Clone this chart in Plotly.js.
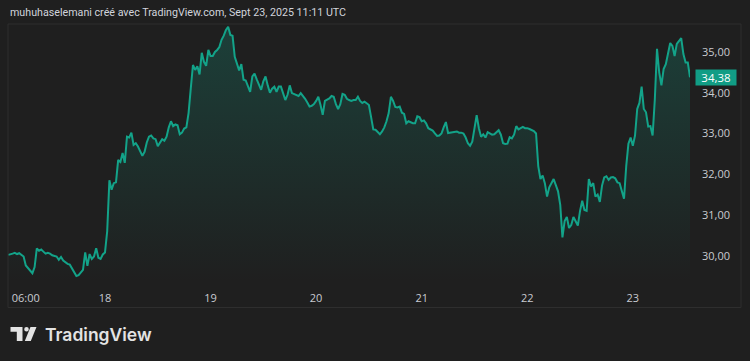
<!DOCTYPE html>
<html>
<head>
<meta charset="utf-8">
<script src="https://cdn.plot.ly/plotly-3.0.1.min.js"></script>
<style>
html,body{margin:0;padding:0;background:#1f1f1f;}
#chart{width:750px;height:361px;}
</style>
</head>
<body>
<div id="chart"></div>
<script>
// ---- data (30-minute closes, from 2025-09-17 02:00) ----
const seriesStart = '2025-09-17T02:00:00';
const stepMinutes = 30;
const prices = [
30.02,30.03,30.05,30.07,30.04,30.06,30.02,29.98,29.76,29.70,
29.62,29.57,29.72,30.18,30.12,30.15,30.10,30.05,30.07,30.05,
30.01,30.00,29.98,29.90,29.97,29.88,29.83,29.80,29.78,29.68,
29.60,29.50,29.52,29.58,29.65,30.08,29.75,30.04,29.92,29.98,
30.18,29.95,29.92,30.03,30.08,30.60,31.85,31.62,31.78,31.80,
32.35,32.30,32.52,32.28,32.92,32.90,33.02,32.72,32.76,32.68,
32.55,32.45,32.55,32.78,32.92,32.95,32.88,32.86,32.69,32.78,
32.86,32.82,32.92,33.15,33.30,33.18,33.22,33.20,32.98,33.02,
33.12,33.15,33.50,34.10,34.68,34.56,34.65,34.45,34.98,34.76,
34.66,35.05,34.90,34.90,35.00,35.05,35.12,35.30,35.40,35.54,
35.62,35.42,35.40,34.88,34.70,34.55,34.70,34.32,34.30,34.15,
34.02,34.40,34.47,34.33,34.22,34.07,34.28,34.40,34.18,34.00,
34.10,34.15,34.02,34.15,34.15,33.98,33.82,33.95,34.18,33.99,
33.96,33.93,33.92,33.99,33.93,33.85,33.76,33.66,33.68,33.72,
33.80,33.90,33.70,33.46,33.80,33.83,33.86,33.92,33.90,33.72,
33.60,33.72,33.97,33.95,33.85,33.82,33.80,33.82,33.82,33.90,
33.80,33.75,33.78,33.74,33.70,33.40,33.10,33.09,33.02,32.98,
33.05,33.15,33.30,33.50,33.90,33.80,33.65,33.64,33.66,33.51,
33.48,33.25,33.30,33.28,33.25,33.25,33.42,33.40,33.30,33.32,
33.25,33.13,33.10,33.07,33.00,32.94,32.95,33.00,33.15,33.28,
33.01,33.02,33.02,33.04,33.05,33.02,33.02,33.00,32.90,32.76,
32.70,32.80,33.15,33.45,33.13,32.92,32.98,32.90,33.03,33.00,
32.97,32.98,33.02,33.08,32.97,32.76,32.74,32.75,32.91,32.88,
32.97,33.18,33.10,33.14,33.16,33.13,33.13,33.11,33.09,33.06,
33.00,32.20,31.88,31.97,31.78,31.45,31.68,31.79,31.88,31.73,
31.58,31.25,30.45,30.85,30.95,30.68,30.75,30.95,30.86,30.74,
31.10,31.35,31.12,31.10,31.88,31.70,31.78,31.45,31.50,31.32,
31.72,31.92,31.95,31.86,31.92,31.93,31.90,31.80,31.78,31.60,
31.40,32.20,32.75,32.90,32.70,32.95,33.60,33.75,34.15,33.60,
33.52,33.17,33.18,32.95,33.83,35.08,34.50,34.18,34.58,34.70,
34.93,35.22,35.15,34.90,35.20,35.28,35.34,34.95,34.74,34.74,
34.38
];
const tickDates = ['2025-09-17 06:00','2025-09-18','2025-09-19','2025-09-20','2025-09-21','2025-09-22','2025-09-23'];
const tickLabels = ['06:00','18','19','20','21','22','23'];
const yTicks = [30,31,32,33,34,35];
const lastPrice = 34.38;
const titleText = 'muhuhaselemani créé avec TradingView.com, Sept 23, 2025 11:11 UTC';

// ---- build timestamps from start + step ----
function fmt(d){
  const p=n=>String(n).padStart(2,'0');
  return d.getUTCFullYear()+'-'+p(d.getUTCMonth()+1)+'-'+p(d.getUTCDate())+' '+p(d.getUTCHours())+':'+p(d.getUTCMinutes());
}
const t0 = Date.parse(seriesStart+'Z');
const times = prices.map((_,i)=>fmt(new Date(t0+i*stepMinutes*60000)));

// ---- geometry helpers (pixel -> paper) ----
const W=750,H=361,ML=8,MR=60,MT=24,MB=79;
const PW=W-ML-MR, PH=H-MT-MB;
const px=x=>(x-ML)/PW;
const py=y=>(H-MB-y)/PH;

const yRange=[29.354,35.687];
const bg='#1f1f1f';
const lineCol='#13a389';

const trace={
  x: times, y: prices, type:'scatter', mode:'lines',
  line:{color:lineCol,width:2},
  fill:'tozeroy',
  fillgradient:{type:'vertical',start:yRange[0],stop:yRange[1],
    colorscale:[[0,'rgba(19,163,137,0.0)'],[1,'rgba(19,163,137,0.25)']]},
  hoverinfo:'skip'
};

function logoPath(pts){
  return 'M'+pts.map(p=>px(p[0])+','+py(p[1])).join(' L')+' Z';
}
const logoCol='#e3e3e3';
const shapes=[
  {type:'rect',xref:'paper',yref:'paper',x0:px(8),x1:px(741),y0:py(307.5),y1:py(24),
   line:{color:'#2e2e2e',width:1},fillcolor:'rgba(0,0,0,0)',layer:'above'},
  {type:'path',xref:'paper',yref:'paper',path:logoPath([[10.5,327],[22.5,327],[22.5,341],[16.8,341],[16.8,331.8],[10.5,331.8]]),
   fillcolor:logoCol,line:{width:0}},
  {type:'circle',xref:'paper',yref:'paper',x0:px(24.2),x1:px(28.8),y0:py(331.6),y1:py(327),
   fillcolor:logoCol,line:{width:0}},
  {type:'path',xref:'paper',yref:'paper',path:logoPath([[30.5,327],[36.5,327],[30.8,341],[24.8,341]]),
   fillcolor:logoCol,line:{width:0}}
];

const annotations=[
  {xref:'paper',yref:'paper',x:px(8),y:py(13),xanchor:'left',yanchor:'middle',showarrow:false,
   text:titleText,font:{family:'Roboto, sans-serif',size:10.7,color:'#d1d4dc'}},
  {xref:'paper',yref:'y',x:px(715.5),y:lastPrice,xanchor:'center',yanchor:'middle',showarrow:false,
   text:lastPrice.toFixed(2).replace('.',','),bgcolor:'#119d85',borderpad:1.5,width:37,height:12,
   font:{family:'Open Sans, sans-serif',size:11.5,color:'#ffffff'}},
  {xref:'paper',yref:'paper',x:px(43),y:py(334),xanchor:'left',yanchor:'middle',showarrow:false,
   text:'TradingView',font:{family:'Inter, Roboto, sans-serif',size:17.5,color:logoCol,weight:600}}
];

const layout={
  width:W,height:H,
  margin:{l:ML,r:MR,t:MT,b:MB,pad:0},
  paper_bgcolor:bg,plot_bgcolor:bg,
  separators:',.',
  showlegend:false,
  font:{family:'Open Sans, sans-serif',size:11,color:'#c9cbd1'},
  xaxis:{type:'date',range:['2025-09-17 01:57','2025-09-23 13:00'],
    tickmode:'array',tickvals:tickDates,ticktext:tickLabels,
    showgrid:false,zeroline:false,showline:false,ticks:'',ticklabelstandoff:8,
    tickfont:{size:11,color:'#c9cbd1'},fixedrange:true},
  yaxis:{range:yRange,side:'right',tickmode:'array',tickvals:yTicks,
    tickformat:'.2f',showgrid:false,zeroline:false,showline:false,ticks:'',
    ticklabelstandoff:11,tickfont:{size:11,color:'#c9cbd1'},fixedrange:true},
  shapes:shapes,annotations:annotations
};

Plotly.newPlot('chart',[trace],layout,{displayModeBar:false,staticPlot:true});
</script>
</body>
</html>
